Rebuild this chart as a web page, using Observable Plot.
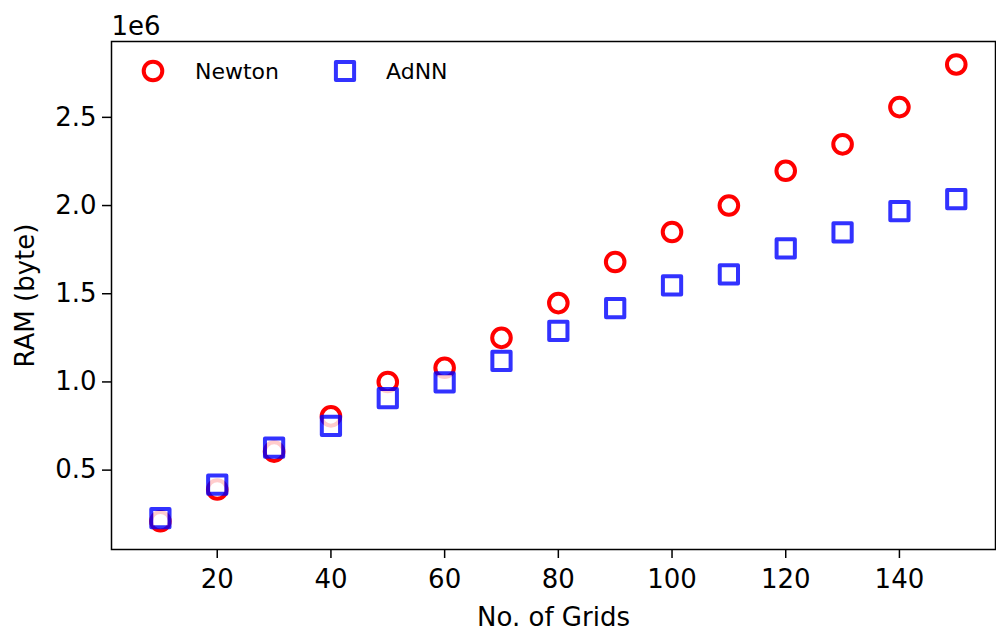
<!DOCTYPE html>
<html>
<head>
<meta charset="utf-8">
<script src="https://cdn.jsdelivr.net/npm/d3@7"></script>
<script src="https://cdn.jsdelivr.net/npm/@observablehq/plot@0.6"></script>
<style>
  html, body { margin: 0; padding: 0; background: #fff; }
  #wrap { position: relative; width: 996px; height: 635px; font-family: "DejaVu Sans", sans-serif; }
  #legend { position: absolute; left: 138px; top: 56px; display: flex; align-items: center; font-size: 22px; color: #000; }
  #legend .item { display: flex; align-items: center; }
  #legend svg { display: block; }
</style>
</head>
<body>
<div id="wrap"></div>
<script>
// Data (RAM in units of 1e6 bytes)
const grids = [10, 20, 30, 40, 50, 60, 70, 80, 90, 100, 110, 120, 130, 140, 150];
const newton = [0.21, 0.39, 0.605, 0.805, 1.0, 1.08, 1.25, 1.447, 1.68, 1.85, 2.0, 2.197, 2.347, 2.558, 2.80];
const adnn = [0.228, 0.418, 0.627, 0.751, 0.908, 0.997, 1.12, 1.29, 1.418, 1.548, 1.61, 1.757, 1.848, 1.968, 2.036];
const xTicks = [20, 40, 60, 80, 100, 120, 140];
const yTicks = [0.5, 1.0, 1.5, 2.0, 2.5];
const seriesNames = ["Newton", "AdNN"];
const seriesColors = ["#ff0000", "#0000ff"];

const newtonData = grids.map((g, i) => ({x: g, y: newton[i]}));
const adnnData = grids.map((g, i) => ({x: g, y: adnn[i]}));

const FS = 26;

const chart = Plot.plot({
  width: 996,
  height: 635,
  marginLeft: 111,
  marginRight: 1,
  marginTop: 41,
  marginBottom: 86,
  style: {fontFamily: "DejaVu Sans, sans-serif", fontSize: FS + "px", color: "#000", background: "#fff"},
  x: {domain: [1.4, 156.9]},
  y: {domain: [0.05, 2.93]},
  marks: [
    Plot.frame({stroke: "#000", strokeWidth: 1.5}),
    Plot.axisX({ticks: xTicks, tickSize: 9, tickPadding: 11, tickFormat: d => String(d), fontSize: FS,
      label: "No. of Grids", labelAnchor: "center", labelArrow: "none", labelOffset: 76, strokeWidth: 1.5}),
    Plot.axisY({ticks: yTicks, tickSize: 9, tickPadding: 6, tickFormat: d => d.toFixed(1), fontSize: FS,
      label: "RAM (byte)", labelAnchor: "center", labelArrow: "none", labelOffset: 96, strokeWidth: 1.5}),
    Plot.text(["1e6"], {frameAnchor: "top-left", dy: -25, dx: 0, textAnchor: "start", fontSize: FS}),
    Plot.dot(newtonData, {x: "x", y: "y", symbol: "circle", r: 9.3, stroke: seriesColors[0], strokeWidth: 4, fill: "white"}),
    Plot.dot(adnnData, {x: "x", y: "y", symbol: "square", r: 10.3, stroke: seriesColors[1], strokeWidth: 4, fill: "white", opacity: 0.8, strokeLinejoin: "round"})
  ]
});

const wrap = document.getElementById("wrap");
wrap.appendChild(chart);

// Legend
const legend = document.createElement("div");
legend.id = "legend";
const syms = [
  `<svg width="30" height="30"><circle cx="15" cy="15" r="9.3" fill="white" stroke="${seriesColors[0]}" stroke-width="4"/></svg>`,
  `<svg width="30" height="30"><rect x="5.9" y="5.9" width="18.2" height="18.2" fill="white" stroke="${seriesColors[1]}" stroke-width="4" stroke-linejoin="round" opacity="0.8"/></svg>`
];
seriesNames.forEach((name, i) => {
  const item = document.createElement("div");
  item.className = "item";
  item.style.marginRight = i === 0 ? "51px" : "0";
  item.innerHTML = syms[i] + `<span style="margin-left:${i === 0 ? 27 : 26}px">${name}</span>`;
  legend.appendChild(item);
});
wrap.appendChild(legend);
</script>
</body>
</html>
